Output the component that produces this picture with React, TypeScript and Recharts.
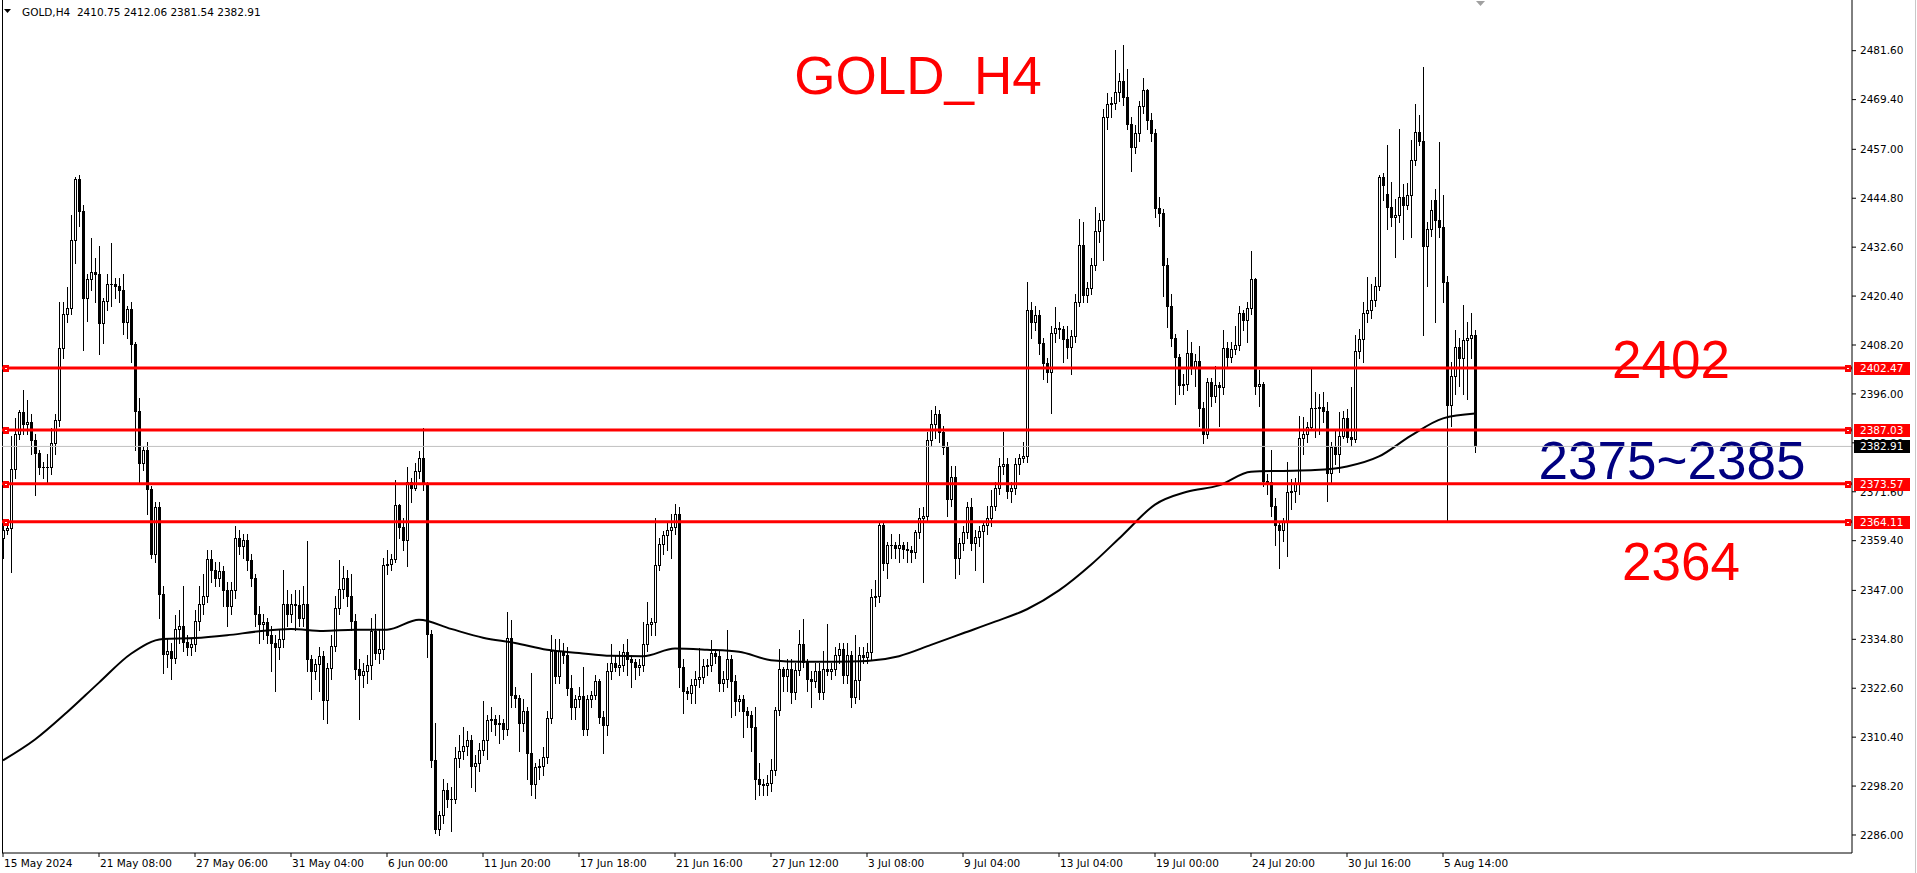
import React from "react";
import {
  ComposedChart,
  Bar,
  Line,
  XAxis,
  YAxis,
  ReferenceLine,
  Customized,
} from "recharts";

const FONT = "Tahoma, 'DejaVu Sans', sans-serif";
const BIG_FONT = "'Liberation Sans', Arial, sans-serif";

const symbol = "GOLD,H4";

// H4 candles, [open, high, low, close]
const candles1 = [
  [2360, 2363, 2355, 2362], [2362, 2364, 2361, 2362.5], [2362.5, 2385.4, 2351.7, 2377.3],
  [2377.3, 2390, 2375, 2386], [2386, 2392, 2384.8, 2391.6], [2391.6, 2397, 2386, 2388.5],
  [2388.5, 2394.5, 2386, 2389], [2389, 2391, 2381, 2384.5], [2384.5, 2386, 2370.7, 2381.3],
  [2381.3, 2382, 2376, 2377.7], [2377.7, 2379, 2375, 2377.8], [2377.8, 2381, 2374, 2377.7],
  [2377.7, 2387.5, 2376, 2383.7], [2383.7, 2391, 2381, 2389.5], [2389.5, 2418.9, 2388, 2407.5],
  [2407.5, 2419, 2405, 2416], [2416, 2422.6, 2414, 2417.4], [2417.4, 2440.6, 2416, 2434.5],
  [2434.5, 2450, 2428.7, 2449.5], [2449.5, 2450.5, 2438, 2441.5], [2441.5, 2443, 2407, 2420],
  [2420, 2426, 2414.3, 2424.6], [2424.6, 2434.9, 2422, 2426.4], [2426.4, 2430, 2419, 2426],
  [2426, 2433, 2406, 2413.7], [2413.7, 2420, 2408.6, 2419.1], [2419.1, 2426, 2417, 2423.3],
  [2423.3, 2433.7, 2418, 2423.5], [2423.5, 2425, 2420, 2423], [2423, 2425, 2419, 2421.8],
  [2421.8, 2426, 2411, 2413.9], [2413.9, 2418, 2410, 2417.2], [2417.2, 2419, 2404, 2408.4],
  [2408.4, 2409, 2382, 2391.7], [2391.7, 2395, 2374, 2378.8], [2378.8, 2383, 2377, 2382],
  [2382, 2384, 2366, 2372.3], [2372.3, 2373, 2355, 2356], [2356, 2369, 2354, 2367.9],
  [2367.9, 2369, 2340, 2346], [2346, 2348, 2326.3, 2331.1], [2331.1, 2335, 2328, 2332],
  [2332, 2334, 2325, 2330.2], [2330.2, 2340.8, 2329, 2337.4], [2337.4, 2342, 2334, 2338],
  [2338, 2348, 2332, 2334.2], [2334.2, 2336, 2331, 2333], [2333, 2335, 2331, 2333.6],
  [2333.6, 2342, 2332, 2339.4], [2339.4, 2348, 2337, 2343.6], [2343.6, 2351, 2341, 2345.7],
  [2345.7, 2357, 2344, 2354.8], [2354.8, 2357, 2349, 2352], [2352, 2354, 2348, 2350],
  [2350, 2354, 2348, 2351.8], [2351.8, 2353, 2343, 2347], [2347, 2349, 2338, 2343],
  [2343, 2349, 2341, 2347], [2347, 2363, 2345, 2360], [2360, 2362, 2356, 2358],
  [2358, 2361, 2355, 2359.5], [2359.5, 2361, 2352, 2354.5], [2354.5, 2356, 2348, 2350],
  [2350, 2351, 2338, 2341], [2341, 2343, 2334, 2338.6], [2338.6, 2341, 2335, 2339],
  [2339, 2340, 2334, 2336], [2336, 2338, 2327, 2334], [2334, 2336, 2322, 2333],
  [2333, 2337, 2330, 2335], [2335, 2352, 2333, 2343.6], [2343.6, 2347, 2338, 2341],
  [2341, 2346, 2339, 2343.6], [2343.6, 2347, 2337, 2343.3], [2343.3, 2347, 2338, 2340],
];

const candles2 = [
  [2340, 2348, 2338, 2343.6], [2343.6, 2359.4, 2327, 2329.8], [2329.8, 2331, 2320, 2327],
  [2327, 2330, 2325, 2328.7], [2328.7, 2333, 2322, 2330.6], [2330.6, 2332, 2315, 2319.6],
  [2319.6, 2329, 2314, 2327.7], [2327.7, 2336, 2325, 2333.2], [2333.2, 2345.6, 2332, 2342.5],
  [2342.5, 2354.5, 2341, 2347.3], [2347.3, 2353, 2345, 2350.2], [2350.2, 2352, 2343, 2345.5],
  [2345.5, 2351, 2337, 2339.4], [2339.4, 2341, 2325, 2327.5], [2327.5, 2330, 2315, 2325.8],
  [2325.8, 2329, 2323, 2326.9], [2326.9, 2331, 2324, 2328.5], [2328.5, 2340, 2325, 2336.9],
  [2336.9, 2341, 2330, 2331.3], [2331.3, 2337, 2329, 2332.3], [2332.3, 2355, 2330, 2353.3],
  [2353.3, 2357, 2351, 2353.5], [2353.5, 2356, 2352, 2354.8], [2354.8, 2374.5, 2354, 2368.3],
  [2368.3, 2368.5, 2360, 2362.7], [2362.7, 2365, 2357, 2359.5], [2359.5, 2377.7, 2353, 2374],
  [2374, 2375, 2369, 2372.5], [2372.5, 2378.7, 2372, 2376.7], [2376.7, 2381.8, 2375, 2380],
  [2380, 2387.5, 2372, 2373.5], [2373.5, 2374, 2330.5, 2336.2], [2336.2, 2337, 2303, 2304.6],
  [2304.6, 2314, 2286.5, 2287.6], [2287.6, 2292, 2285.9, 2291], [2291, 2300, 2289, 2297.3],
  [2297.3, 2299, 2293, 2295], [2295, 2298, 2287, 2295.1], [2295.1, 2308, 2294, 2305.2],
  [2305.2, 2311, 2303, 2307], [2307, 2313, 2305, 2308.3], [2308.3, 2312, 2306, 2309.6],
  [2309.6, 2311, 2298, 2303.3], [2303.3, 2306, 2297, 2304], [2304, 2309, 2302, 2307.3],
  [2307.3, 2319.5, 2306, 2309.8], [2309.8, 2316, 2305, 2314.8], [2314.8, 2318, 2312, 2315],
  [2315, 2316, 2311, 2313.6], [2313.6, 2316, 2309, 2314], [2314, 2315, 2310, 2312.5],
  [2312.5, 2341.5, 2311, 2335.2], [2335.2, 2339.5, 2318, 2320.8], [2320.8, 2323, 2318, 2320.2],
  [2320.2, 2321, 2307, 2314], [2314, 2320, 2312, 2316.8], [2316.8, 2318, 2300, 2306.5],
  [2306.5, 2326.5, 2296, 2298.6], [2298.6, 2304, 2295.3, 2302.9], [2302.9, 2305, 2300, 2303.1],
  [2303.1, 2308, 2301, 2305.5], [2305.5, 2317, 2304, 2315.2], [2315.2, 2336, 2314, 2331.9],
  [2331.9, 2335, 2324, 2325.7], [2325.7, 2335, 2324, 2331.9], [2331.9, 2334, 2329, 2331],
  [2331, 2333, 2321, 2322.7], [2322.7, 2326, 2315, 2318], [2318, 2321, 2315, 2319.8],
  [2319.8, 2323, 2318, 2320.6], [2320.6, 2328, 2311, 2312.5], [2312.5, 2321, 2311, 2320],
];

const candles3 = [
  [2320, 2322, 2318, 2321], [2321, 2326, 2320, 2324.4], [2324.4, 2325, 2314, 2315.5],
  [2315.5, 2317, 2306.5, 2313.4], [2313.4, 2329, 2311, 2326.9], [2326.9, 2333.6, 2325, 2328.9],
  [2328.9, 2331, 2327, 2328], [2328, 2331.8, 2326, 2328.3], [2328.3, 2333.6, 2327, 2331.6],
  [2331.6, 2335, 2326, 2330], [2330, 2331, 2323, 2329.2], [2329.2, 2330, 2325, 2328],
  [2328, 2330, 2326, 2328.5], [2328.5, 2339, 2327, 2333.7], [2333.7, 2344, 2332, 2338.5],
  [2338.5, 2340, 2336, 2339.2], [2339.2, 2365, 2336, 2353.4], [2353.4, 2360, 2352, 2358.6],
  [2358.6, 2361.8, 2356, 2360.7], [2360.7, 2364.4, 2357, 2362.1], [2362.1, 2366, 2355, 2362.9],
  [2362.9, 2368.6, 2361, 2366.1], [2366.1, 2367.8, 2323, 2327.8], [2327.8, 2330, 2316.3, 2321.9],
  [2321.9, 2323, 2320, 2321.3], [2321.3, 2325, 2319, 2323.5], [2323.5, 2327, 2319, 2325],
  [2325, 2332.6, 2323, 2325.3], [2325.3, 2330, 2324, 2328.1], [2328.1, 2330, 2326, 2328.5],
  [2328.5, 2334.6, 2327, 2331.4], [2331.4, 2332.5, 2329, 2330.6], [2330.6, 2332, 2322, 2323.9],
  [2323.9, 2327, 2322, 2324.8], [2324.8, 2337, 2323, 2330], [2330, 2331, 2315.5, 2324.4],
  [2324.4, 2326, 2316, 2319.4], [2319.4, 2321, 2317, 2319.8], [2319.8, 2321, 2310.5, 2317],
  [2317, 2318, 2313, 2315.9], [2315.9, 2317, 2307, 2313], [2313, 2318, 2295, 2299.9],
  [2299.9, 2304, 2296, 2298.7], [2298.7, 2300, 2296, 2298.5], [2298.5, 2301, 2296, 2298.9],
  [2298.9, 2305, 2297, 2302.3], [2302.3, 2318, 2301, 2317.1], [2317.1, 2332.5, 2316, 2327.5],
  [2327.5, 2328, 2322, 2325.6], [2325.6, 2330, 2322, 2327.5], [2327.5, 2330, 2319, 2321.7],
  [2321.7, 2329, 2320, 2327.1], [2327.1, 2337, 2326, 2333.7], [2333.7, 2339.8, 2328, 2329.2],
  [2329.2, 2330, 2322, 2324.8], [2324.8, 2327, 2318, 2324.3], [2324.3, 2329, 2323, 2327],
  [2327, 2329, 2320, 2321.7], [2321.7, 2332, 2320, 2327.5], [2327.5, 2338.6, 2326, 2327],
  [2327, 2329, 2325, 2327.5], [2327.5, 2333, 2326, 2330.8], [2330.8, 2334, 2329, 2332.5],
  [2332.5, 2334, 2324, 2325.8], [2325.8, 2334, 2324, 2330.8], [2330.8, 2332, 2318, 2320.5],
  [2320.5, 2336, 2319, 2324.6], [2324.6, 2333, 2320, 2330.8], [2330.8, 2333, 2329, 2330.5],
  [2330.5, 2334, 2329, 2331.7], [2331.7, 2347.3, 2330, 2345.4], [2345.4, 2349.5, 2343, 2345.6],
  [2345.6, 2364, 2344, 2363.2],
];

const candles4 = [
  [2363.2, 2364, 2352, 2353.9], [2353.9, 2359, 2350, 2358.3], [2358.3, 2361, 2355, 2358.4],
  [2358.4, 2359, 2355, 2357.6], [2357.6, 2361, 2354, 2358.3], [2358.3, 2359, 2355, 2357.3],
  [2357.3, 2359, 2354, 2357], [2357, 2358, 2354, 2356.6], [2356.6, 2362, 2355, 2361.5],
  [2361.5, 2367.5, 2360, 2365], [2365, 2367.8, 2349, 2365.5], [2365.5, 2386.4, 2364, 2384.6],
  [2384.6, 2392, 2383, 2388.6], [2388.6, 2393, 2385, 2391.1], [2391.1, 2392, 2384, 2386.4],
  [2386.4, 2388, 2381, 2382.8], [2382.8, 2384, 2365.5, 2369.9], [2369.9, 2378, 2368, 2375.2],
  [2375.2, 2378, 2350, 2355.2], [2355.2, 2360, 2351, 2358.8], [2358.8, 2363, 2357, 2361.6],
  [2361.6, 2369, 2360, 2367.7], [2367.7, 2370, 2357, 2358.8], [2358.8, 2362, 2352, 2360.3],
  [2360.3, 2363, 2358, 2361.9], [2361.9, 2364, 2349, 2363.2], [2363.2, 2368, 2361, 2365],
  [2365, 2372, 2363, 2368.1], [2368.1, 2374, 2367, 2372.6], [2372.6, 2380, 2371, 2377.9],
  [2377.9, 2386.4, 2376, 2378.4], [2378.4, 2380, 2370, 2371.7], [2371.7, 2374, 2369, 2372.6],
  [2372.6, 2380, 2371, 2378.4], [2378.4, 2381, 2376, 2379.9], [2379.9, 2384, 2379, 2380.6],
  [2380.6, 2423.9, 2379, 2416.9], [2416.9, 2419, 2410, 2413.9], [2413.9, 2418, 2412, 2415.7],
  [2415.7, 2417, 2406, 2408.6], [2408.6, 2410, 2399.6, 2403.7], [2403.7, 2405, 2399, 2401.5],
  [2401.5, 2413, 2391.2, 2411.3], [2411.3, 2417.8, 2409, 2412.5], [2412.5, 2414, 2410, 2412.2],
  [2412.2, 2413, 2404, 2409.8], [2409.8, 2413, 2405, 2407.7], [2407.7, 2412, 2401, 2410.4],
  [2410.4, 2421, 2409, 2418.9], [2418.9, 2439.6, 2418, 2433.1], [2433.1, 2439, 2419, 2420.6],
  [2420.6, 2424, 2419, 2422.4], [2422.4, 2430, 2421, 2428.2], [2428.2, 2442.5, 2427, 2436.7],
  [2436.7, 2441, 2434, 2439.3], [2439.3, 2467, 2429.4, 2465.1], [2465.1, 2471, 2462, 2468.3],
  [2468.3, 2470, 2465, 2468.5], [2468.5, 2481.7, 2467, 2471.4], [2471.4, 2476, 2469, 2474],
  [2474, 2483, 2468, 2470], [2470, 2477, 2462, 2463.2], [2463.2, 2465, 2451.7, 2457.6],
  [2457.6, 2463, 2456, 2461.1], [2461.1, 2469, 2459, 2467.8], [2467.8, 2474.7, 2466, 2471.8],
  [2471.8, 2472, 2462, 2464.3], [2464.3, 2466, 2459, 2461.1], [2461.1, 2462, 2440, 2442.4],
  [2442.4, 2445, 2438, 2441.1], [2441.1, 2442, 2420.5, 2428.2], [2428.2, 2430, 2412.6, 2418],
];

const candles5 = [
  [2418, 2421, 2408, 2410], [2410, 2411, 2393.5, 2405.2], [2405.2, 2406, 2396, 2398.3],
  [2398.3, 2401, 2396, 2398.5], [2398.5, 2412, 2397, 2406.1], [2406.1, 2409, 2401, 2402.8],
  [2402.8, 2406, 2398, 2404.3], [2404.3, 2408, 2388, 2392.4], [2392.4, 2394, 2383.7, 2386],
  [2386, 2400, 2385, 2398.9], [2398.9, 2400, 2393, 2395.4], [2395.4, 2403, 2394, 2398.2],
  [2398.2, 2399, 2388, 2397.7], [2397.7, 2412, 2396, 2407.5], [2407.5, 2409, 2403, 2405.3],
  [2405.3, 2409, 2404, 2407.2], [2407.2, 2413, 2406, 2408.3], [2408.3, 2418, 2407, 2416.2],
  [2416.2, 2417, 2412, 2414.5], [2414.5, 2419, 2409, 2417.4], [2417.4, 2431.7, 2416, 2424.7],
  [2424.7, 2425, 2396, 2398.1], [2398.1, 2402, 2392.9, 2398.5], [2398.5, 2399, 2373, 2374.4],
  [2374.4, 2376, 2371, 2374], [2374, 2382, 2365.5, 2368.1], [2368.1, 2370, 2358.2, 2363.2],
  [2363.2, 2364, 2352.7, 2362.1], [2362.1, 2365, 2359.2, 2364], [2364, 2379, 2355.6, 2371.5],
  [2371.5, 2374.8, 2367.3, 2371.7], [2371.7, 2375, 2369, 2373.5], [2373.5, 2390.5, 2371, 2385],
  [2385, 2390.2, 2381, 2386], [2386, 2389, 2384, 2387.7], [2387.7, 2402.2, 2387, 2392.5],
  [2392.5, 2396.4, 2385.2, 2392.6], [2392.6, 2396, 2386, 2392.7], [2392.7, 2396.4, 2389, 2391.8],
  [2391.8, 2393.9, 2369.2, 2376.4], [2376.4, 2384, 2374, 2382.7], [2382.7, 2386.8, 2378.5, 2381],
  [2381, 2391.4, 2376.5, 2385.6], [2385.6, 2391.8, 2385, 2390], [2390, 2392.2, 2384, 2385.2],
  [2385.2, 2397.7, 2383, 2384.8], [2384.8, 2410.6, 2384, 2406.8], [2406.8, 2412.2, 2405, 2409.7],
  [2409.7, 2418.9, 2403.9, 2416.1], [2416.1, 2425.1, 2413.9, 2417], [2417, 2423.5, 2415, 2419.5],
  [2419.5, 2425.1, 2418, 2423], [2423, 2450.5, 2422, 2450.1], [2450.1, 2451, 2444.3, 2448],
  [2445.8, 2458.2, 2437.2, 2442.6], [2442.6, 2448.8, 2438, 2440.1], [2440.1, 2444.7, 2430.1, 2440.5],
  [2440.5, 2462.1, 2439, 2445.1], [2445.1, 2448.4, 2434.7, 2443], [2443, 2448.6, 2442, 2445.5],
  [2445.5, 2459.4, 2435.1, 2454.4], [2454.4, 2468.4, 2453, 2461.3], [2461.3, 2465.5, 2458, 2459.2],
  [2459.2, 2477.5, 2410.6, 2433], [2433, 2438.9, 2423, 2437.2], [2437.2, 2444.3, 2435.5, 2441.8],
  [2444.3, 2447.2, 2413.9, 2439.3], [2439.3, 2458.8, 2435.1, 2437.6], [2437.6, 2445.5, 2418.9, 2423.9],
  [2423.9, 2425.5, 2364.1, 2393.3], [2393.3, 2404, 2388, 2400.5], [2400.5, 2412, 2396, 2407.7],
  [2407.7, 2410, 2398, 2405], [2405, 2418.3, 2396, 2409.4], [2409.4, 2413.9, 2394.8, 2410],
  [2410, 2416.3, 2405, 2410.8], [2410.75, 2412.06, 2381.54, 2382.91],
];

// moving average, read at every 8th bar: [bar, value]
const maReadings = [
  [0, 2304.6], [8, 2309.8], [16, 2316.6], [24, 2324.0], [32, 2331.2], [40, 2334.9],
  [48, 2335.1], [56, 2335.8], [64, 2336.8], [72, 2337.4], [80, 2336.9], [88, 2337.2],
  [96, 2337.2], [104, 2339.7], [112, 2337.4], [120, 2335.2], [128, 2333.9], [136, 2332.2],
  [144, 2331.4], [152, 2330.7], [160, 2330.6], [168, 2332.5], [176, 2332.2], [184, 2331.7],
  [192, 2329.6], [200, 2329.2], [208, 2329.2], [216, 2329.4], [224, 2330.6], [232, 2333.4],
  [240, 2336.3], [248, 2339.2], [256, 2342.3], [264, 2347.0], [272, 2353.4], [280, 2360.9],
  [288, 2368.4], [296, 2371.6], [304, 2373.2], [312, 2376.6], [320, 2376.8], [328, 2377.0],
  [336, 2377.9], [344, 2380.4], [352, 2385.6], [360, 2389.9], [368, 2391.1],
];

const timeTickBars = [0, 24, 48, 72, 96, 120, 144, 168, 192, 216, 240, 264, 288, 312, 336, 360];
const timeLabels = [
  "15 May 2024", "21 May 08:00", "27 May 06:00", "31 May 04:00", "6 Jun 00:00",
  "11 Jun 20:00", "17 Jun 18:00", "21 Jun 16:00", "27 Jun 12:00", "3 Jul 08:00",
  "9 Jul 04:00", "13 Jul 04:00", "19 Jul 00:00", "24 Jul 20:00", "30 Jul 16:00", "5 Aug 14:00",
];

const priceTicks = [
  2481.6, 2469.4, 2457.0, 2444.8, 2432.6, 2420.4, 2408.2, 2396.0, 2383.8,
  2371.6, 2359.4, 2347.0, 2334.8, 2322.6, 2310.4, 2298.2, 2286.0,
];

const levels = [2402.47, 2387.03, 2373.57, 2364.11];
const lastPrice = 2382.91;

const Y_MIN = 2281.51;
const Y_MAX = 2494.24;
const PLOT_H = 853;
const PX_PER_UNIT = PLOT_H / (Y_MAX - Y_MIN);

// tags on the price scale, drawn over the tick labels they hide
const tags = [
  ...levels.map((v) => ({ v, bg: "#ff0000" })),
  { v: lastPrice, bg: "#000000" },
];

const allCandles = [...candles1, ...candles2, ...candles3, ...candles4, ...candles5];
const maByBar = new Map(maReadings.map(([b, v]) => [b, v]));

const rows = allCandles.map(([o, h, l, c], i) => ({
  i,
  o,
  h,
  l,
  c,
  range: [l, h],
  ma: maByBar.has(i) ? maByBar.get(i) : null,
}));

const last = allCandles[allCandles.length - 1];
const header = `${symbol}  ${last.map((v) => v.toFixed(2)).join(" ")}`;

const Candle = (props: any) => {
  const { x, y, width, height, payload } = props;
  if (x == null || y == null || !payload) return null;
  const { o, h, l, c } = payload;
  const top = Math.min(y, y + height);
  const bottom = Math.max(y, y + height);
  const span = h - l;
  const py = (v: number) => (span > 0 ? top + ((h - v) / span) * (bottom - top) : top);
  const cx = Math.round(x + width / 2 + 0.01);
  const yH = Math.round(top);
  const yL = Math.round(bottom);
  const bTop = Math.round(py(Math.max(o, c)));
  const bBot = Math.round(py(Math.min(o, c)));
  let body;
  if (bBot - bTop < 1) {
    body = <rect x={cx - 1} y={bTop} width={3} height={1} fill="#000" />;
  } else if (c > o && bBot - bTop >= 2) {
    body = (
      <rect x={cx - 0.5} y={bTop + 0.5} width={2} height={bBot - bTop} fill="#fff" stroke="#000" strokeWidth={1} />
    );
  } else {
    body = <rect x={cx - 1} y={bTop} width={3} height={bBot - bTop + 1} fill="#000" />;
  }
  return (
    <g shapeRendering="crispEdges">
      <rect x={cx} y={yH} width={1} height={Math.max(yL - yH + 1, 1)} fill="#000" />
      {body}
    </g>
  );
};

const TimeTick = (props: any) => {
  const { x, y, payload } = props;
  const k = timeTickBars.indexOf(payload.value);
  return (
    <text x={x + 1} y={y} dy="0.78em" textAnchor="start" fontFamily={FONT} fontSize={10.5} fill="#000">
      {timeLabels[k]}
    </text>
  );
};

const TagBox = ({ x, y, bg, text }: { x: number; y: number; bg: string; text: string }) => {
  const yy = Math.round(y);
  return (
    <g>
      <rect x={x} y={yy - 6} width={56} height={13} fill={bg} shapeRendering="crispEdges" />
      <text x={x + 6} y={yy + 0.5} dy="0.36em" fontFamily={FONT} fontSize={10.5} fill="#fff">
        {text}
      </text>
    </g>
  );
};

const PriceTick = (props: any) => {
  const { x, y, payload } = props;
  const value = payload.value as number;
  const covering = tags.filter((t) => Math.abs((t.v - value) * PX_PER_UNIT) < 14);
  return (
    <g>
      <text x={x} y={y} dy="0.36em" textAnchor="start" fontFamily={FONT} fontSize={10.5} fill="#000">
        {value.toFixed(2)}
      </text>
      {covering.map((t) => (
        <TagBox key={t.v} x={x - 6} y={y - (t.v - value) * PX_PER_UNIT} bg={t.bg} text={t.v.toFixed(2)} />
      ))}
    </g>
  );
};

const LevelTag = (props: any) => {
  const { viewBox, text, bg, markers } = props;
  if (!viewBox) return null;
  const { x, y, width } = viewBox;
  const right = x + width;
  const yy = Math.round(y);
  return (
    <g>
      {markers && (
        <g shapeRendering="crispEdges">
          <rect x={x + 1} y={yy - 3} width={6} height={7} fill="#ff0000" />
          <rect x={x + 3} y={yy} width={2} height={1} fill="#fff" />
          <rect x={right - 7} y={yy - 3} width={6} height={7} fill="#ff0000" />
          <rect x={right - 5} y={yy} width={2} height={1} fill="#fff" />
        </g>
      )}
      <TagBox x={right + 2} y={y} bg={bg} text={text} />
    </g>
  );
};

const Overlay = () => (
  <g>
    <rect x={2} y={0} width={1} height={853} fill="#000" shapeRendering="crispEdges" />
    <rect x={1915} y={0} width={1} height={873} fill="#c8c8c8" shapeRendering="crispEdges" />
    <polygon points="1476,1 1485,1 1480.5,6" fill="#a0a0a0" />
    <polygon points="4,9 11,9 7.5,13" fill="#000" />
    <text x={22} y={16} fontFamily={FONT} fontSize={10.5} fill="#000" style={{ whiteSpace: "pre" }}>
      {header}
    </text>
    <text x={918} y={94} textAnchor="middle" fontFamily={BIG_FONT} fontSize={53} fill="#ff0000">
      GOLD_H4
    </text>
    <text x={1671} y={378} textAnchor="middle" fontFamily={BIG_FONT} fontSize={53} fill="#ff0000">
      2402
    </text>
    <text x={1672} y={479} textAnchor="middle" fontFamily={BIG_FONT} fontSize={53} fill="#000080">
      2375~2385
    </text>
    <text x={1681} y={580} textAnchor="middle" fontFamily={BIG_FONT} fontSize={53} fill="#ff0000">
      2364
    </text>
  </g>
);

export default function App() {
  return (
    <div style={{ position: "absolute", left: 0, top: 0, width: 1917, height: 873, background: "#fff" }}>
      <ComposedChart
        width={1917}
        height={873}
        data={rows}
        margin={{ top: 0, right: 0, bottom: 0, left: 2 }}
      >
        <XAxis
          dataKey="i"
          type="number"
          domain={[-0.25, 462.25]}
          allowDataOverflow
          ticks={timeTickBars}
          interval={0}
          height={20}
          tickSize={4}
          tickMargin={2}
          tickLine={{ stroke: "#000" }}
          axisLine={{ stroke: "#000" }}
          tick={<TimeTick />}
        />
        <YAxis
          orientation="right"
          type="number"
          domain={[Y_MIN, Y_MAX]}
          allowDataOverflow
          ticks={priceTicks}
          interval={0}
          width={65}
          tickSize={4}
          tickMargin={4}
          tickLine={{ stroke: "#000" }}
          axisLine={{ stroke: "#000" }}
          tick={<PriceTick />}
        />
        <Bar dataKey="range" barSize={3} shape={<Candle />} isAnimationActive={false} />
        <Line
          dataKey="ma"
          type="monotone"
          stroke="#000"
          strokeWidth={2}
          dot={false}
          connectNulls
          isAnimationActive={false}
        />
        <ReferenceLine
          y={lastPrice}
          stroke="#c0c0c0"
          strokeWidth={1}
          label={<LevelTag text={lastPrice.toFixed(2)} bg="#000000" />}
        />
        {levels.map((v) => (
          <ReferenceLine
            key={v}
            y={v}
            stroke="#ff0000"
            strokeWidth={3}
            label={<LevelTag text={v.toFixed(2)} bg="#ff0000" markers />}
          />
        ))}
        <Customized component={Overlay} />
      </ComposedChart>
    </div>
  );
}
